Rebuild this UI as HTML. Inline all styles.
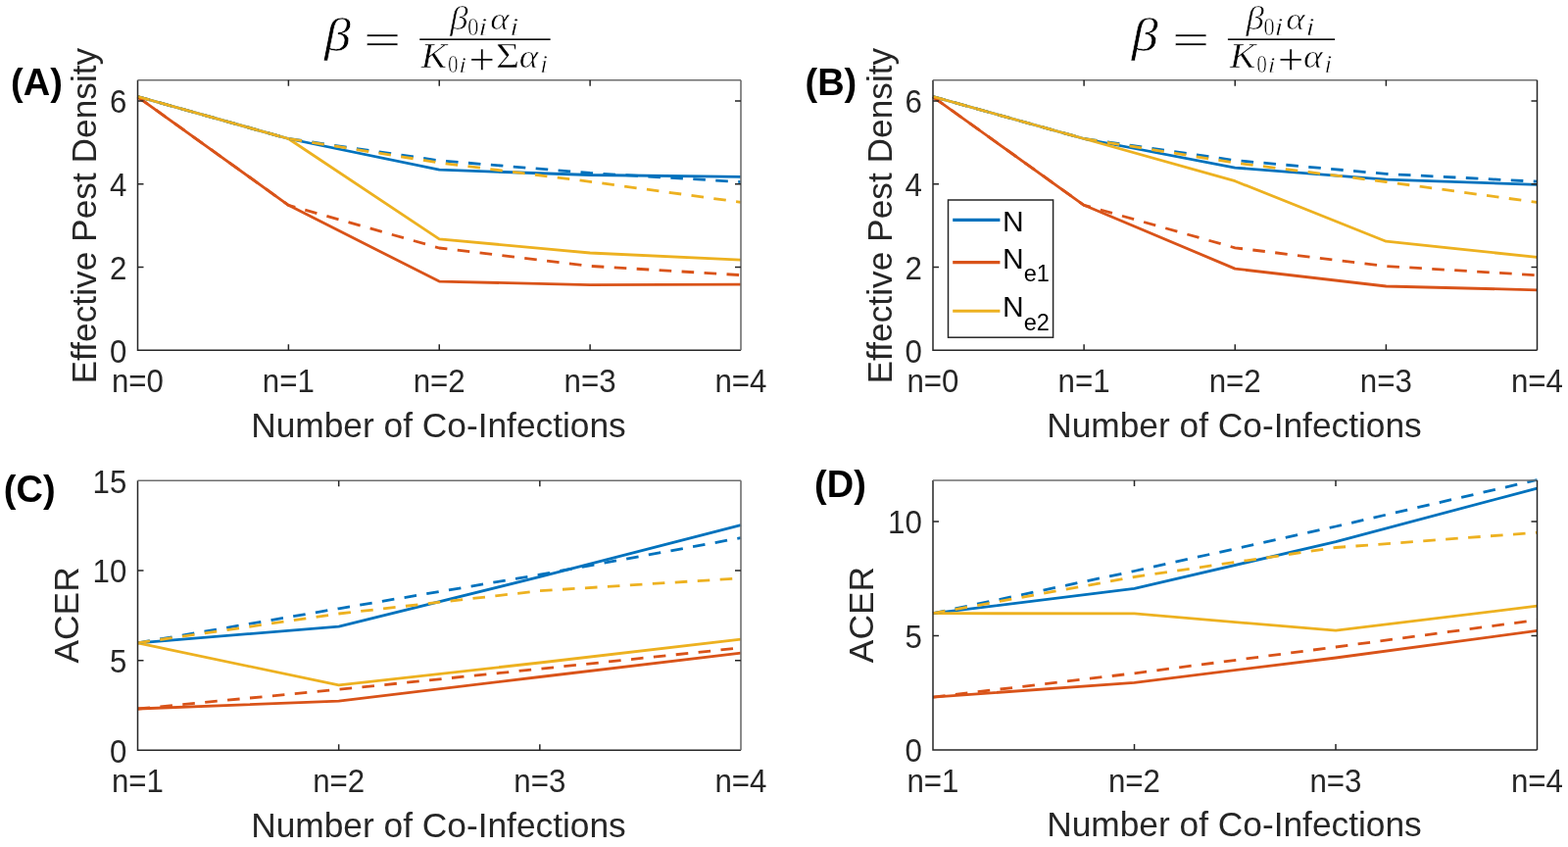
<!DOCTYPE html>
<html><head><meta charset="utf-8"><title>Effective Pest Density and ACER</title>
<style>html,body{margin:0;padding:0;background:#fff;overflow:hidden;}svg{display:block;}</style>
</head><body>
<svg width="1600" height="864" viewBox="0 0 1600 864" font-family="'Liberation Sans', Arial, sans-serif">
<rect width="1600" height="864" fill="#fff"/>
<g fill="none" stroke-width="2.8" stroke-linejoin="round">
<polyline points="140.5,98.5 294.38,141.5 448.25,173.2 602.12,178.5 756,180.3" stroke="#0072BD"/>
<polyline points="140.5,98.8 294.38,209.3 448.25,287.1 602.12,290.6 756,290.2" stroke="#D95319"/>
<polyline points="140.5,98.5 294.38,141.5 448.25,243.8 602.12,258 756,265.2" stroke="#EDB120"/>
<polyline points="140.5,98.5 294.38,141.5 448.25,163.8 602.12,176.5 756,185.6" stroke="#0072BD" stroke-dasharray="12.6,10.4"/>
<polyline points="140.5,98.8 294.38,209.3 448.25,253 602.12,271.4 756,280.6" stroke="#D95319" stroke-dasharray="12.6,10.4"/>
<polyline points="140.5,98.5 294.38,141.5 448.25,166 602.12,185.3 756,206.3" stroke="#EDB120" stroke-dasharray="12.6,10.4"/>
</g>
<path d="M140.5,81.8V357.2H756" fill="none" stroke="#262626" stroke-width="1.5"/>
<path d="M140.5,81.8H756" fill="none" stroke="#6e6e6e" stroke-width="1.6"/>
<path d="M756,81.8V357.2" fill="none" stroke="#6e6e6e" stroke-width="1.6"/>
<path d="M294.38,357.2v-6M294.38,81.8v6M448.25,357.2v-6M448.25,81.8v6M602.12,357.2v-6M602.12,81.8v6M140.5,272.46h6M756,272.46h-6M140.5,187.72h6M756,187.72h-6M140.5,102.98h6M756,102.98h-6" stroke="#262626" stroke-width="1.5" fill="none"/>
<g font-size="32.4" fill="#262626">
<text transform="translate(129.3,369.6) scale(0.965,1)" text-anchor="end">0</text>
<text transform="translate(129.3,284.86) scale(0.965,1)" text-anchor="end">2</text>
<text transform="translate(129.3,200.12) scale(0.965,1)" text-anchor="end">4</text>
<text transform="translate(129.3,115.38) scale(0.965,1)" text-anchor="end">6</text>
<text transform="translate(140.5,400) scale(0.965,1)" text-anchor="middle">n=0</text>
<text transform="translate(294.38,400) scale(0.965,1)" text-anchor="middle">n=1</text>
<text transform="translate(448.25,400) scale(0.965,1)" text-anchor="middle">n=2</text>
<text transform="translate(602.12,400) scale(0.965,1)" text-anchor="middle">n=3</text>
<text transform="translate(756,400) scale(0.965,1)" text-anchor="middle">n=4</text>
</g>
<text x="447.45" y="445.5" font-size="35.3" fill="#262626" text-anchor="middle">Number of Co-Infections</text>
<text transform="translate(98.2,220.1) rotate(-90)" font-size="35.3" fill="#262626" text-anchor="middle">Effective Pest Density</text>
<g fill="none" stroke-width="2.8" stroke-linejoin="round">
<polyline points="952,98.5 1106.12,141.5 1260.25,171.1 1414.38,183.1 1568.5,188.4" stroke="#0072BD"/>
<polyline points="952,98.8 1106.12,209.3 1260.25,274.1 1414.38,292 1568.5,295.8" stroke="#D95319"/>
<polyline points="952,98.5 1106.12,141.5 1260.25,184.7 1414.38,246.2 1568.5,262.4" stroke="#EDB120"/>
<polyline points="952,98.5 1106.12,141.5 1260.25,163.6 1414.38,177.4 1568.5,185.2" stroke="#0072BD" stroke-dasharray="12.6,10.4"/>
<polyline points="952,98.8 1106.12,209.3 1260.25,252.8 1414.38,271.5 1568.5,280.7" stroke="#D95319" stroke-dasharray="12.6,10.4"/>
<polyline points="952,98.5 1106.12,141.5 1260.25,166.1 1414.38,185.5 1568.5,206.4" stroke="#EDB120" stroke-dasharray="12.6,10.4"/>
</g>
<path d="M952,81.8V357.2H1568.5" fill="none" stroke="#262626" stroke-width="1.5"/>
<path d="M952,81.8H1568.5" fill="none" stroke="#6e6e6e" stroke-width="1.6"/>
<path d="M1568.5,81.8V357.2" fill="none" stroke="#262626" stroke-width="1.5"/>
<path d="M1106.12,357.2v-6M1106.12,81.8v6M1260.25,357.2v-6M1260.25,81.8v6M1414.38,357.2v-6M1414.38,81.8v6M952,272.46h6M1568.5,272.46h-6M952,187.72h6M1568.5,187.72h-6M952,102.98h6M1568.5,102.98h-6" stroke="#262626" stroke-width="1.5" fill="none"/>
<g font-size="32.4" fill="#262626">
<text transform="translate(940.8,369.6) scale(0.965,1)" text-anchor="end">0</text>
<text transform="translate(940.8,284.86) scale(0.965,1)" text-anchor="end">2</text>
<text transform="translate(940.8,200.12) scale(0.965,1)" text-anchor="end">4</text>
<text transform="translate(940.8,115.38) scale(0.965,1)" text-anchor="end">6</text>
<text transform="translate(952,400) scale(0.965,1)" text-anchor="middle">n=0</text>
<text transform="translate(1106.12,400) scale(0.965,1)" text-anchor="middle">n=1</text>
<text transform="translate(1260.25,400) scale(0.965,1)" text-anchor="middle">n=2</text>
<text transform="translate(1414.38,400) scale(0.965,1)" text-anchor="middle">n=3</text>
<text transform="translate(1568.5,400) scale(0.965,1)" text-anchor="middle">n=4</text>
</g>
<text x="1259.45" y="445.5" font-size="35.3" fill="#262626" text-anchor="middle">Number of Co-Infections</text>
<text transform="translate(909.7,220.1) rotate(-90)" font-size="35.3" fill="#262626" text-anchor="middle">Effective Pest Density</text>
<g fill="none" stroke-width="2.8" stroke-linejoin="round">
<polyline points="140.5,655.8 345.67,639.2 550.83,588.4 756,535.7" stroke="#0072BD"/>
<polyline points="140.5,723 345.67,715.1 550.83,690.5 756,666.1" stroke="#D95319"/>
<polyline points="140.5,655.8 345.67,698.9 550.83,676 756,652.1" stroke="#EDB120"/>
<polyline points="140.5,655.8 345.67,620.8 550.83,586.2 756,548.7" stroke="#0072BD" stroke-dasharray="12.6,10.4"/>
<polyline points="140.5,723 345.67,703.3 550.83,682.3 756,660.8" stroke="#D95319" stroke-dasharray="12.6,10.4"/>
<polyline points="140.5,655.8 345.67,626 550.83,602.7 756,589.8" stroke="#EDB120" stroke-dasharray="12.6,10.4"/>
</g>
<path d="M140.5,490.3V765.3H756" fill="none" stroke="#262626" stroke-width="1.5"/>
<path d="M140.5,490.3H756" fill="none" stroke="#6e6e6e" stroke-width="1.6"/>
<path d="M756,490.3V765.3" fill="none" stroke="#6e6e6e" stroke-width="1.6"/>
<path d="M345.67,765.3v-6M345.67,490.3v6M550.83,765.3v-6M550.83,490.3v6M140.5,673.63h6M756,673.63h-6M140.5,581.97h6M756,581.97h-6" stroke="#262626" stroke-width="1.5" fill="none"/>
<g font-size="32.4" fill="#262626">
<text transform="translate(129.3,777.7) scale(0.965,1)" text-anchor="end">0</text>
<text transform="translate(129.3,686.03) scale(0.965,1)" text-anchor="end">5</text>
<text transform="translate(129.3,594.37) scale(0.965,1)" text-anchor="end">10</text>
<text transform="translate(129.3,502.7) scale(0.965,1)" text-anchor="end">15</text>
<text transform="translate(140.5,808.1) scale(0.965,1)" text-anchor="middle">n=1</text>
<text transform="translate(345.67,808.1) scale(0.965,1)" text-anchor="middle">n=2</text>
<text transform="translate(550.83,808.1) scale(0.965,1)" text-anchor="middle">n=3</text>
<text transform="translate(756,808.1) scale(0.965,1)" text-anchor="middle">n=4</text>
</g>
<text x="447.45" y="853.6" font-size="35.3" fill="#262626" text-anchor="middle">Number of Co-Infections</text>
<text transform="translate(79.8,627.4) rotate(-90)" font-size="35.3" fill="#262626" text-anchor="middle">ACER</text>
<g fill="none" stroke-width="2.8" stroke-linejoin="round">
<polyline points="952,625.7 1157.5,600.4 1363,552.6 1568.5,498.1" stroke="#0072BD"/>
<polyline points="952,711.1 1157.5,696.3 1363,671 1568.5,643.4" stroke="#D95319"/>
<polyline points="952,625.7 1157.5,625.9 1363,643.2 1568.5,618.2" stroke="#EDB120"/>
<polyline points="952,625.7 1157.5,582.5 1363,537 1568.5,489.5" stroke="#0072BD" stroke-dasharray="12.6,10.4"/>
<polyline points="952,711.1 1157.5,686.8 1363,660 1568.5,632.4" stroke="#D95319" stroke-dasharray="12.6,10.4"/>
<polyline points="952,625.7 1157.5,588.5 1363,558.5 1568.5,543.2" stroke="#EDB120" stroke-dasharray="12.6,10.4"/>
</g>
<path d="M952,490V765H1568.5" fill="none" stroke="#262626" stroke-width="1.5"/>
<path d="M952,490H1568.5" fill="none" stroke="#6e6e6e" stroke-width="1.6"/>
<path d="M1568.5,490V765" fill="none" stroke="#262626" stroke-width="1.5"/>
<path d="M1157.5,765v-6M1157.5,490v6M1363,765v-6M1363,490v6M952,648.47h6M1568.5,648.47h-6M952,531.95h6M1568.5,531.95h-6" stroke="#262626" stroke-width="1.5" fill="none"/>
<g font-size="32.4" fill="#262626">
<text transform="translate(940.8,777.4) scale(0.965,1)" text-anchor="end">0</text>
<text transform="translate(940.8,660.87) scale(0.965,1)" text-anchor="end">5</text>
<text transform="translate(940.8,544.35) scale(0.965,1)" text-anchor="end">10</text>
<text transform="translate(952,807.8) scale(0.965,1)" text-anchor="middle">n=1</text>
<text transform="translate(1157.5,807.8) scale(0.965,1)" text-anchor="middle">n=2</text>
<text transform="translate(1363,807.8) scale(0.965,1)" text-anchor="middle">n=3</text>
<text transform="translate(1568.5,807.8) scale(0.965,1)" text-anchor="middle">n=4</text>
</g>
<text x="1259.45" y="853.3" font-size="35.3" fill="#262626" text-anchor="middle">Number of Co-Infections</text>
<text transform="translate(891.3,627.1) rotate(-90)" font-size="35.3" fill="#262626" text-anchor="middle">ACER</text>
<text x="11.1" y="97.3" font-size="38" font-weight="bold" fill="#000">(A)</text>
<text x="821.5" y="97.3" font-size="38" font-weight="bold" fill="#000">(B)</text>
<text x="3.8" y="512.1" font-size="38" font-weight="bold" fill="#000">(C)</text>
<text x="831.1" y="507.2" font-size="38" font-weight="bold" fill="#000">(D)</text>
<rect x="967.5" y="204.0" width="107.1" height="140.2" fill="#fff" stroke="#262626" stroke-width="1.5"/>
<line x1="972.2" x2="1020.4" y1="224.4" y2="224.4" stroke="#0072BD" stroke-width="3.0999999999999996"/>
<text x="1023" y="235.9" font-size="30" fill="#000">N</text>
<line x1="972.2" x2="1020.4" y1="267.6" y2="267.6" stroke="#D95319" stroke-width="3.0999999999999996"/>
<text x="1023" y="273.7" font-size="30" fill="#000">N<tspan font-size="23.5" dy="13.2">e1</tspan></text>
<line x1="972.2" x2="1020.4" y1="317.3" y2="317.3" stroke="#EDB120" stroke-width="3.0999999999999996"/>
<text x="1023" y="323.4" font-size="30" fill="#000">N<tspan font-size="23.5" dy="13.2">e2</tspan></text>
<g fill="#000" stroke="#fff" stroke-width="0.6" font-family="'Liberation Serif', serif">
<text font-style="italic" font-size="47.76" transform="translate(330.97,51.93) scale(1.131,1)">β</text>
<text font-size="44.4" transform="translate(370.79,55.29) scale(1.544,1)">=</text>
<rect x="428.25" y="39.4" width="133.35" height="1.6" stroke="none"/>
<text font-style="italic" font-size="33.26" transform="translate(459.35,29.67) scale(1.114,1)">β</text>
<text font-size="24.82" transform="translate(477.12,35.51) scale(0.927,1)">0</text>
<text font-style="italic" font-size="24.17" transform="translate(488.11,35.5) scale(1.402,1)">i</text>
<text font-style="italic" font-size="31.12" transform="translate(500.16,30.18) scale(1.177,1)">α</text>
<text font-style="italic" font-size="24.92" transform="translate(520.11,35.5) scale(1.359,1)">i</text>
<text font-style="italic" font-size="35.13" transform="translate(429.47,69) scale(1.134,1)">K</text>
<text font-size="24.82" transform="translate(456.94,73.76) scale(0.855,1)">0</text>
<text font-style="italic" font-size="23.41" transform="translate(468.08,73.6) scale(1.247,1)">i</text>
<text font-size="47.23" transform="translate(478.45,76.48) scale(1.001,1)">+</text>
<text font-size="35.28" transform="translate(505.97,69) scale(1.179,1)">Σ</text>
<text font-style="italic" font-size="33.2" transform="translate(529.79,69.16) scale(1.124,1)">α</text>
<text font-style="italic" font-size="24.24" transform="translate(550.98,73.75) scale(1.204,1)">i</text>
</g>
<g fill="#000" stroke="#fff" stroke-width="0.6" font-family="'Liberation Serif', serif">
<text font-style="italic" font-size="47.76" transform="translate(1154.67,51.93) scale(1.131,1)">β</text>
<text font-size="44.4" transform="translate(1195.79,55.29) scale(1.544,1)">=</text>
<rect x="1252.9" y="39.4" width="109.2" height="1.6" stroke="none"/>
<text font-style="italic" font-size="33.26" transform="translate(1271.5,29.67) scale(1.114,1)">β</text>
<text font-size="24.82" transform="translate(1289.27,35.51) scale(0.927,1)">0</text>
<text font-style="italic" font-size="24.17" transform="translate(1300.26,35.5) scale(1.402,1)">i</text>
<text font-style="italic" font-size="31.12" transform="translate(1312.31,30.18) scale(1.177,1)">α</text>
<text font-style="italic" font-size="24.92" transform="translate(1332.26,35.5) scale(1.359,1)">i</text>
<text font-style="italic" font-size="35.13" transform="translate(1254.77,69) scale(1.134,1)">K</text>
<text font-size="24.82" transform="translate(1282.24,73.76) scale(0.855,1)">0</text>
<text font-style="italic" font-size="23.41" transform="translate(1293.38,73.6) scale(1.247,1)">i</text>
<text font-size="47.23" transform="translate(1303.75,76.48) scale(1.001,1)">+</text>
<text font-style="italic" font-size="33.2" transform="translate(1329.99,69.16) scale(1.124,1)">α</text>
<text font-style="italic" font-size="24.24" transform="translate(1351.18,73.75) scale(1.204,1)">i</text>
</g>
</svg>
</body></html>
